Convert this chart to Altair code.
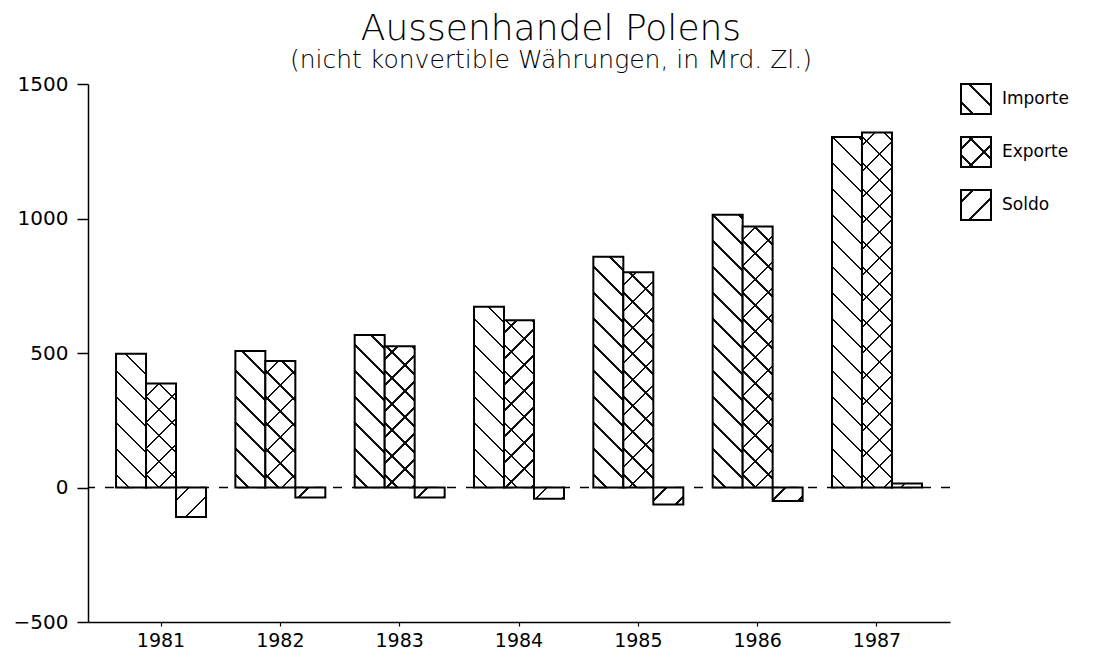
import altair as alt

# ---- data ----
years = ["1981", "1982", "1983", "1984", "1985", "1986", "1987"]
importe = [497, 507, 567, 672, 858, 1014, 1303]
exporte = [387, 470, 525, 622, 800, 970, 1320]
saldo = [-110, -37, -37, -42, -63, -50, 15]
series = ["Importe", "Exporte", "Soldo"]
y_ticks = [-500, 0, 500, 1000, 1500]

# ---- layout / style ----
FONT = "DejaVu Sans"
W, H = 862, 538
PI, PO = 0.246, 0.235
Y_MIN, Y_MAX = -500, 1500
step = W / (len(years) - PI + 2 * PO)
bar_w = step * (1 - PI) / len(series)
px_per_unit = H / (Y_MAX - Y_MIN)
INK = "#111111"
GAP = 26.0
TH = 1.7


def hatch(w, h, direction, bg, phase=None):
    """Linear gradient with hard stops that draws 45-degree hatch lines."""
    h = max(h, 1.0)
    L = w + h
    s = w * (w + h) / (w * w + h * h)
    if direction == "back":      # lines like "\"
        x1, y1, x2, y2 = 0, 1, s, 1 - s * h / w
    else:                        # lines like "/"
        x1, y1, x2, y2 = 0, 0, s, s * h / w
    d = TH * 1.414
    p = GAP / 2 if phase is None else phase
    stops = [{"offset": 0, "color": bg}]
    last = 0.0
    while p - d / 2 < L:
        a = max(last, (p - d / 2) / L)
        b = min(1.0, (p + d / 2) / L)
        if b > a:
            stops += [{"offset": a, "color": bg}, {"offset": a, "color": INK},
                      {"offset": b, "color": INK}, {"offset": b, "color": bg}]
            last = b
        p += GAP
    stops.append({"offset": 1, "color": bg})
    return {"gradient": "linear", "x1": x1, "y1": y1, "x2": x2, "y2": y2,
            "stops": stops}


values = {"Importe": importe, "Exporte": exporte, "Soldo": saldo}
base_dir = {"Importe": "back", "Exporte": "back", "Soldo": "fwd"}

bar_rows, over_rows = [], []
for s in series:
    for yr, v in zip(years, values[s]):
        h = abs(v) * px_per_unit
        bar_rows.append({"year": yr, "series": s, "value": v,
                         "hatch": hatch(bar_w, h, base_dir[s], "white")})
        if s == "Exporte":
            over_rows.append({"year": yr, "series": s, "value": v,
                              "hatch": hatch(bar_w, h, "fwd", "rgba(255,255,255,0)")})

x_enc = alt.X("year:N", sort=years, title=None,
              scale=alt.Scale(paddingInner=PI, paddingOuter=PO),
              axis=alt.Axis(labelAngle=0, tickSize=4, labelPadding=5,
                            labelFont=FONT, labelFontSize=19, labelColor="black",
                            domainColor="black", tickColor="black",
                            domainWidth=1.5, tickWidth=1.2))
xo_enc = alt.XOffset("series:N", sort=series,
                     scale=alt.Scale(domain=series, paddingInner=0, paddingOuter=0))
y_enc = alt.Y("value:Q", stack=None, title=None,
              scale=alt.Scale(domain=[Y_MIN, Y_MAX], nice=False, zero=False),
              axis=alt.Axis(values=y_ticks, format="d", grid=False, tickSize=11,
                            labelFont=FONT, labelFontSize=20, labelColor="black",
                            labelPadding=9, domainColor="black", tickColor="black",
                            domainWidth=1.5, tickWidth=1.5, labelFlush=False))

zero_line = alt.Chart(alt.Data(values=[{}])).mark_rule(
    color="black", strokeWidth=1.5, strokeDash=[9, 10]
).encode(y=alt.datum(0, type="quantitative"))

bars = alt.Chart(alt.Data(values=bar_rows)).mark_bar(
    stroke="black", strokeWidth=2
).encode(x=x_enc, xOffset=xo_enc, y=y_enc,
         fill=alt.Fill("hatch:N", scale=None))

overlay = alt.Chart(alt.Data(values=over_rows)).mark_bar(
    strokeWidth=0
).encode(x=x_enc, xOffset=xo_enc, y=y_enc,
         fill=alt.Fill("hatch:N", scale=None))

main = alt.layer(zero_line, bars, overlay).properties(width=W, height=H)

# ---- hatched legend ----
LS = 30.0
leg_rows = [{"series": s, "hatch": hatch(LS, LS, base_dir[s], "white", phase=12)}
            for s in series]
leg_over = [{"series": "Exporte",
             "hatch": hatch(LS, LS, "fwd", "rgba(255,255,255,0)", phase=12)}]
ly = alt.Y("series:N", sort=series, axis=None,
           scale=alt.Scale(type="point", domain=series, padding=0.283))
leg_sq = alt.Chart(alt.Data(values=leg_rows)).mark_square(
    size=LS * LS, stroke="black", strokeWidth=2, opacity=1, filled=True
).encode(y=ly, fill=alt.Fill("hatch:N", scale=None))
leg_sq2 = alt.Chart(alt.Data(values=leg_over)).mark_square(
    size=LS * LS, strokeWidth=0, opacity=1, filled=True
).encode(y=ly, fill=alt.Fill("hatch:N", scale=None))
leg_txt = alt.Chart(alt.Data(values=leg_rows)).mark_text(
    align="left", dx=26, font=FONT, fontSize=17, color="black"
).encode(y=ly, text="series:N")
legend = alt.layer(leg_sq, leg_sq2, leg_txt).properties(width=40, height=136)

chart = alt.hconcat(main, legend, spacing=5).properties(
    padding={"left": 5, "right": 5, "top": 3, "bottom": 2},
    background="white",
    title=alt.TitleParams(
        text="Aussenhandel Polens",
        subtitle="(nicht konvertible W\u00e4hrungen, in Mrd. Zl.)",
        anchor="middle", dx=10, font=FONT, fontSize=36, fontWeight=200, color="black",
        subtitleFont=FONT, subtitleFontSize=25, subtitleColor="black",
        subtitleFontWeight=300, subtitlePadding=0, offset=0)
).configure_view(stroke="transparent", strokeWidth=0)

chart.save("out.html", embed_options={"renderer": "svg", "actions": False})
